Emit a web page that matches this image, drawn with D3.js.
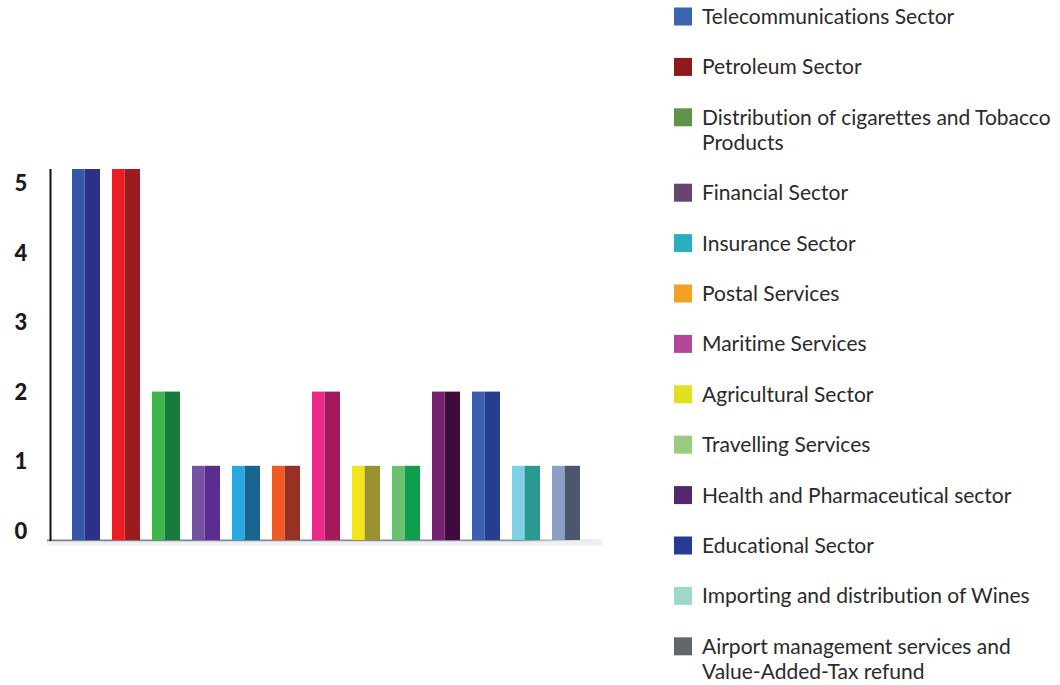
<!DOCTYPE html>
<html>
<head>
<meta charset="utf-8">
<script src="https://cdn.jsdelivr.net/npm/d3@7"></script>
<style>
  html, body { margin: 0; padding: 0; background: #ffffff; }
  svg { display: block; }
  text { font-variant-ligatures: none; font-feature-settings: "liga" 0; }
</style>
</head>
<body>
<svg id="chart" width="1060" height="685"></svg>
<script>
// Number of entities per sector
const sectors = [
  ["Telecommunications Sector"],
  ["Petroleum Sector"],
  ["Distribution of cigarettes and Tobacco", "Products"],
  ["Financial Sector"],
  ["Insurance Sector"],
  ["Postal Services"],
  ["Maritime Services"],
  ["Agricultural Sector"],
  ["Travelling Services"],
  ["Health and Pharmaceutical sector"],
  ["Educational Sector"],
  ["Importing and distribution of Wines"],
  ["Airport management services and", "Value-Added-Tax refund"]
];
const values = [5, 5, 2, 1, 1, 1, 2, 1, 1, 2, 2, 1, 1];
const yTicks = [0, 1, 2, 3, 4, 5];

// Two-tone bar faces (lit side, shaded side)
const barLight = ["#3657a8", "#ec1c24", "#3db54a", "#7453a2", "#27a9e1", "#f15a24",
                  "#ec2a8a", "#f2e51c", "#6bc06e", "#74226f", "#3a5fae", "#7ed0e2", "#8a9ec6"];
const barDark  = ["#2b3188", "#9c1b1f", "#177a3d", "#5a2d8e", "#19658f", "#963123",
                  "#a3195b", "#9a9130", "#109d4e", "#3f0b3d", "#263e90", "#2a9a90", "#4b566f"];
// Legend swatches
const legendColors = ["#3a64b0", "#8e1a1d", "#5e9447", "#66466f", "#2aafc0", "#f4a021",
                      "#b0479b", "#e0e020", "#99cc7f", "#55276e", "#253c97", "#9cd9c8", "#616869"];

const svg = d3.select("#chart");

const x = d3.scaleBand()
  .domain(d3.range(values.length))
  .range([66, 586])
  .paddingInner(0.3)
  .paddingOuter(0.15);

const y = d3.scaleLinear().domain([0, 5]).range([540, 169]);
// Axis labels sit on their own evenly spaced track
const yLabel = d3.scaleLinear().domain([0, 5]).range([531, 183]);

// soft shadow under the baseline
const defs = svg.append("defs");
const sh = defs.append("linearGradient").attr("id", "baseShade")
  .attr("x1", 0).attr("x2", 1).attr("y1", 0).attr("y2", 0);
sh.append("stop").attr("offset", "0%").attr("stop-color", "#7a7f8c");
sh.append("stop").attr("offset", "85%").attr("stop-color", "#8c919c");
sh.append("stop").attr("offset", "100%").attr("stop-color", "#c9ccd2").attr("stop-opacity", 0.3);

svg.append("rect")
  .attr("x", 47).attr("y", y(0) - 0.5)
  .attr("width", 556).attr("height", 2)
  .attr("fill", "url(#baseShade)");
svg.append("rect")
  .attr("x", 47).attr("y", y(0) + 1.5)
  .attr("width", 556).attr("height", 4)
  .attr("fill", "#eef0f3");

// bars
const bars = svg.append("g").selectAll("g")
  .data(values)
  .join("g");
const split = 0.45;
bars.append("rect")
  .attr("x", (d, i) => x(i))
  .attr("y", d => y(d))
  .attr("width", x.bandwidth() * split)
  .attr("height", d => y(0) - y(d))
  .attr("fill", (d, i) => barLight[i]);
bars.append("rect")
  .attr("x", (d, i) => x(i) + x.bandwidth() * split)
  .attr("y", d => y(d))
  .attr("width", x.bandwidth() * (1 - split))
  .attr("height", d => y(0) - y(d))
  .attr("fill", (d, i) => barDark[i]);

// vertical axis line
svg.append("line")
  .attr("x1", 50.5).attr("x2", 50.5)
  .attr("y1", y(5)).attr("y2", y(0) + 1)
  .attr("stroke", "#111").attr("stroke-width", 2);

// tick labels
svg.append("g").selectAll("text")
  .data(yTicks)
  .join("text")
  .attr("x", 21)
  .attr("y", d => yLabel(d))
  .attr("dy", "0.36em")
  .attr("text-anchor", "middle")
  .attr("font-family", "Lato, sans-serif")
  .attr("font-weight", 900)
  .attr("font-size", 22)
  .attr("fill", "#1a1a1a")
  .text(d => d);

// legend
const lineH = 25, itemGap = 50.4;
let offsets = [], acc = 24;
sectors.forEach((lines, i) => { offsets.push(acc); acc += itemGap + (lines.length - 1) * lineH; });

const legend = svg.append("g").selectAll("g")
  .data(sectors)
  .join("g")
  .attr("transform", (d, i) => `translate(0,${offsets[i]})`);
legend.append("rect")
  .attr("x", 674).attr("y", -16.5)
  .attr("width", 18).attr("height", 18)
  .attr("fill", (d, i) => legendColors[i]);
legend.append("text")
  .attr("x", 702)
  .attr("font-family", "Lato, sans-serif")
  .attr("font-size", 21)
  .attr("fill", "#2a2a2a")
  .selectAll("tspan")
  .data(d => d)
  .join("tspan")
  .attr("x", 702)
  .attr("dy", (d, j) => j === 0 ? 0 : lineH)
  .text(d => d);
</script>
</body>
</html>
